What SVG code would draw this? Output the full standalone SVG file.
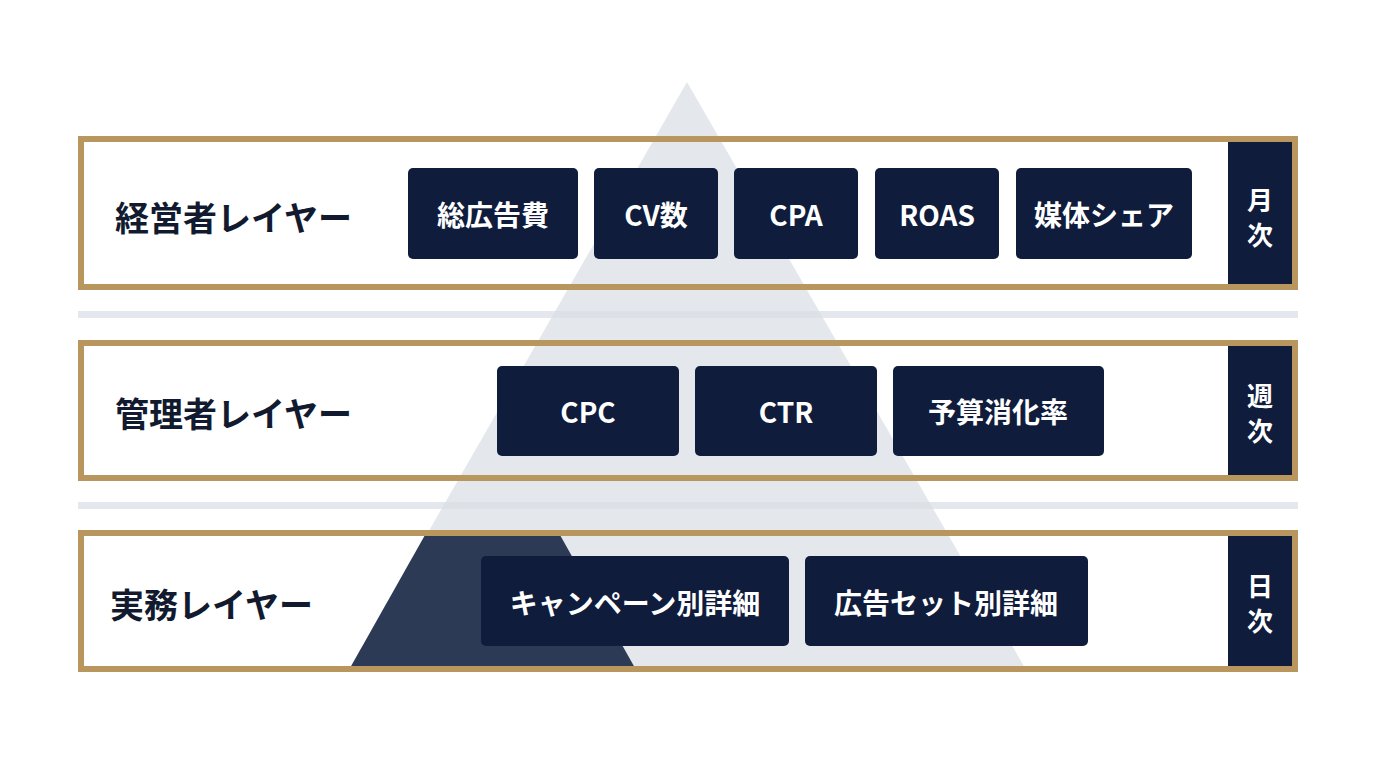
<svg xmlns="http://www.w3.org/2000/svg" width="1376" height="768" viewBox="0 0 1376 768">
<style>
.bandline{fill:none;stroke:#b8965e;stroke-width:6}
.sep{fill:#e4e8ee}
.cell{fill:#0f1c3c}
.node{fill:#0f1c3c}
.t{font-family:"Noto Sans CJK JP","Noto Sans",sans-serif;font-weight:700;fill:#fff;font-size:28px;text-anchor:middle;dominant-baseline:central}
.lbl{font-family:"Noto Sans CJK JP","Noto Sans",sans-serif;font-weight:700;fill:#111a2e;font-size:34px;dominant-baseline:central}
.v{font-family:"Noto Sans CJK JP","Noto Sans",sans-serif;font-weight:700;fill:#fff;font-size:26px;text-anchor:middle;dominant-baseline:central}
</style>
<rect width="1376" height="768" fill="#fff"/>
<rect class="sep" x="78" y="311" width="1220" height="7"/>
<rect class="sep" x="78" y="502" width="1220" height="7"/>
<rect x="81" y="139" width="1214" height="148" fill="#fff"/>
<rect x="81" y="343" width="1214" height="135" fill="#fff"/>
<rect x="81" y="533" width="1214" height="136" fill="#fff"/>
<polygon points="687,82 1025,668 350,668" fill="#d9dee6" opacity="0.7"/>
<polygon points="425,535 560,535 635,668 350,668" fill="#2c3a55"/>
<g id="layer1">
<rect class="bandline" x="81" y="139" width="1214" height="148"/>
<rect class="cell" x="1228" y="142" width="64" height="142"/>
<text class="v" x="1260" y="198">月</text><text class="v" x="1260" y="233">次</text>
<text class="lbl" x="115" y="216">経営者レイヤー</text>
</g>
<g id="layer2">
<rect class="bandline" x="81" y="343" width="1214" height="135"/>
<rect class="cell" x="1228" y="346" width="64" height="129"/>
<text class="v" x="1260" y="394">週</text><text class="v" x="1260" y="429">次</text>
<text class="lbl" x="115" y="412">管理者レイヤー</text>
</g>
<g id="layer3">
<rect class="bandline" x="81" y="533" width="1214" height="136"/>
<rect class="cell" x="1228" y="536" width="64" height="130"/>
<text class="v" x="1260" y="584">日</text><text class="v" x="1260" y="619">次</text>
<text class="lbl" x="110" y="603">実務レイヤー</text>
</g>
<g id="n1"><rect class="node" x="408" y="168" width="170" height="91" rx="5"/><text class="t" x="493" y="214">総広告費</text></g>
<g id="n2"><rect class="node" x="594" y="168" width="124" height="91" rx="5"/><text class="t" x="656" y="214">CV数</text></g>
<g id="n3"><rect class="node" x="734" y="168" width="124" height="91" rx="5"/><text class="t" x="796" y="214">CPA</text></g>
<g id="n4"><rect class="node" x="875" y="168" width="124" height="91" rx="5"/><text class="t" x="937" y="214">ROAS</text></g>
<g id="n5"><rect class="node" x="1016" y="168" width="176" height="91" rx="5"/><text class="t" x="1104" y="214">媒体シェア</text></g>
<g id="n6"><rect class="node" x="497" y="366" width="182" height="90" rx="5"/><text class="t" x="588" y="411">CPC</text></g>
<g id="n7"><rect class="node" x="695" y="366" width="182" height="90" rx="5"/><text class="t" x="786" y="411">CTR</text></g>
<g id="n8"><rect class="node" x="893" y="366" width="211" height="90" rx="5"/><text class="t" x="998" y="411">予算消化率</text></g>
<g id="n9"><rect class="node" x="481" y="556" width="308" height="90" rx="5"/><text class="t" x="635" y="602">キャンペーン別詳細</text></g>
<g id="n10"><rect class="node" x="805" y="556" width="283" height="90" rx="5"/><text class="t" x="946" y="602">広告セット別詳細</text></g>
<g id="connectors"></g>
</svg>
